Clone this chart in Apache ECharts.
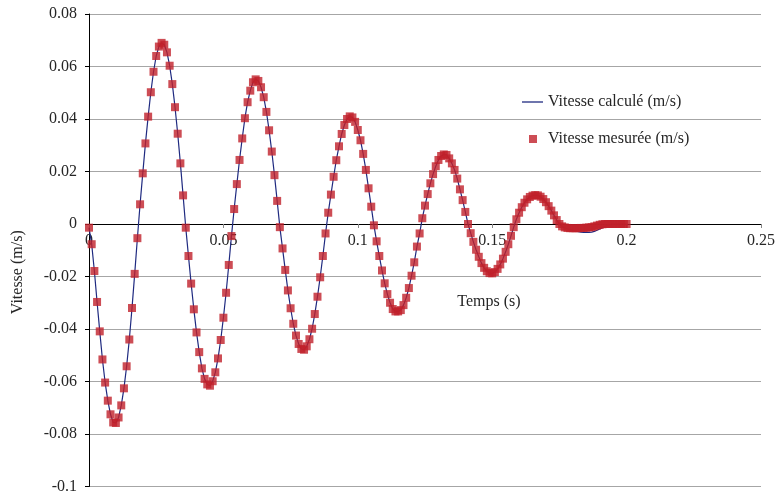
<!DOCTYPE html>
<html><head><meta charset="utf-8">
<script src="https://cdn.jsdelivr.net/npm/echarts@6/dist/echarts.min.js"></script>
<style>html,body{margin:0;padding:0;background:#fff}#c{width:776px;height:497px}</style>
</head><body><div id="c"></div><script>
const seriesNames = ['Vitesse calculé (m/s)', 'Vitesse mesurée (m/s)'];
const axisNames = { x: 'Temps (s)', y: 'Vitesse (m/s)' };
const timeStep = 0.001;
const measured = [
 -0.0014,-0.0077,-0.0179,-0.0297,-0.0409,-0.0516,-0.0604,-0.0673,-0.0725,-0.0756,
 -0.0758,-0.0737,-0.0691,-0.0626,-0.0542,-0.0440,-0.0320,-0.0190,-0.0054,0.0075,
 0.0193,0.0307,0.0409,0.0502,0.0580,0.0640,0.0676,0.0690,0.0683,0.0654,
 0.0603,0.0533,0.0445,0.0344,0.0231,0.0109,-0.0014,-0.0122,-0.0227,-0.0325,
 -0.0413,-0.0488,-0.0550,-0.0590,-0.0611,-0.0616,-0.0599,-0.0565,-0.0512,-0.0442,
 -0.0357,-0.0262,-0.0156,-0.0046,0.0057,0.0152,0.0244,0.0326,0.0403,0.0464,
 0.0508,0.0540,0.0551,0.0545,0.0521,0.0483,0.0427,0.0357,0.0276,0.0186,
 0.0088,-0.0012,-0.0093,-0.0175,-0.0253,-0.0321,-0.0380,-0.0425,-0.0457,-0.0476,
 -0.0479,-0.0466,-0.0439,-0.0399,-0.0343,-0.0277,-0.0203,-0.0122,-0.0036,0.0043,
 0.0112,0.0180,0.0243,0.0296,0.0343,0.0377,0.0400,0.0410,0.0406,0.0389,
 0.0358,0.0319,0.0267,0.0206,0.0136,0.0066,-0.0005,-0.0066,-0.0122,-0.0177,
 -0.0226,-0.0267,-0.0300,-0.0324,-0.0333,-0.0333,-0.0328,-0.0309,-0.0281,-0.0244,
 -0.0197,-0.0146,-0.0086,-0.0036,0.0022,0.0070,0.0114,0.0155,0.0190,0.0220,
 0.0244,0.0259,0.0265,0.0263,0.0250,0.0231,0.0206,0.0173,0.0132,0.0091,
 0.0046,0.0000,-0.0035,-0.0068,-0.0098,-0.0125,-0.0149,-0.0167,-0.0180,-0.0187,
 -0.0188,-0.0183,-0.0171,-0.0154,-0.0132,-0.0106,-0.0077,-0.0045,-0.0012,0.0018,
 0.0043,0.0064,0.0081,0.0094,0.0103,0.0108,0.0110,0.0109,0.0104,0.0095,
 0.0083,0.0068,0.0051,0.0033,0.0015,0.0000,-0.0009,-0.0013,-0.0015,-0.0016,
 -0.0016,-0.0016,-0.0016,-0.0015,-0.0015,-0.0014,-0.0013,-0.0012,-0.0009,-0.0006,
 -0.0003,-0.0001,0.0000,0.0000,0.0000,0.0000,0.0000,0.0000,0.0000,0.0000,
 0.0000
];
const calculated = [
 -0.0014,-0.0077,-0.0179,-0.0297,-0.0409,-0.0516,-0.0604,-0.0673,-0.0725,-0.0756,
 -0.0758,-0.0737,-0.0691,-0.0626,-0.0542,-0.0440,-0.0320,-0.0190,-0.0054,0.0075,
 0.0193,0.0307,0.0409,0.0502,0.0580,0.0640,0.0676,0.0690,0.0683,0.0654,
 0.0603,0.0533,0.0445,0.0344,0.0231,0.0109,-0.0014,-0.0122,-0.0227,-0.0325,
 -0.0413,-0.0488,-0.0550,-0.0590,-0.0611,-0.0616,-0.0599,-0.0565,-0.0512,-0.0442,
 -0.0357,-0.0262,-0.0156,-0.0046,0.0057,0.0152,0.0244,0.0326,0.0403,0.0464,
 0.0508,0.0540,0.0551,0.0545,0.0521,0.0483,0.0427,0.0357,0.0276,0.0186,
 0.0088,-0.0012,-0.0093,-0.0175,-0.0253,-0.0321,-0.0380,-0.0425,-0.0457,-0.0476,
 -0.0479,-0.0466,-0.0439,-0.0399,-0.0343,-0.0277,-0.0203,-0.0122,-0.0036,0.0043,
 0.0112,0.0180,0.0243,0.0296,0.0343,0.0377,0.0400,0.0410,0.0406,0.0389,
 0.0358,0.0319,0.0267,0.0206,0.0136,0.0066,-0.0005,-0.0066,-0.0122,-0.0177,
 -0.0226,-0.0267,-0.0300,-0.0324,-0.0333,-0.0333,-0.0328,-0.0309,-0.0281,-0.0244,
 -0.0197,-0.0146,-0.0086,-0.0036,0.0022,0.0070,0.0114,0.0155,0.0190,0.0220,
 0.0244,0.0259,0.0265,0.0263,0.0250,0.0231,0.0206,0.0173,0.0132,0.0091,
 0.0046,0.0000,-0.0035,-0.0068,-0.0098,-0.0125,-0.0149,-0.0167,-0.0180,-0.0187,
 -0.0188,-0.0183,-0.0171,-0.0154,-0.0132,-0.0106,-0.0077,-0.0045,-0.0012,0.0018,
 0.0043,0.0064,0.0081,0.0094,0.0103,0.0108,0.0110,0.0109,0.0104,0.0095,
 0.0083,0.0068,0.0051,0.0033,0.0015,0.0000,-0.0009,-0.0014,-0.0018,-0.0021,
 -0.0024,-0.0027,-0.0029,-0.0031,-0.0032,-0.0032,-0.0032,-0.0031,-0.0028,-0.0024,
 -0.0019,-0.0014,-0.0009,-0.0005,-0.0002,0.0000,0.0000,0.0000,0.0000,0.0000,
 0.0000
];
const xTicks = { min: 0, max: 0.25, step: 0.05 };
const yTicks = { min: -0.1, max: 0.08, step: 0.02 };

const times = measured.map((_, i) => +(i * timeStep).toFixed(3));
const fmt = v => String(+v.toFixed(2));
const FONT = 'Liberation Serif';
const TXT = '#262626';

const W = 776, H = 497;
const G = { left: 89, right: 15, top: 14, bottom: 10.5 };
const gridH = H - G.top - G.bottom;
// move the whole x axis (line, ticks, labels, name) up to the y = 0 level
const xOffset = -gridH * (0 - yTicks.min) / (yTicks.max - yTicks.min);

const chart = echarts.init(document.getElementById('c'));
chart.setOption({
  animation: false,
  backgroundColor: '#fff',
  textStyle: { fontFamily: FONT },
  grid: Object.assign({ outerBoundsMode: 'none', containLabel: false }, G),
  legend: [
    { data: [{ name: seriesNames[0], icon: 'rect' }], left: 517, top: 89, orient: 'vertical', itemWidth: 21, itemHeight: 1.3,
      textStyle: { fontFamily: FONT, fontSize: 16, color: TXT } },
    { data: [{ name: seriesNames[1], icon: 'rect' }], left: 524, top: 126, orient: 'vertical', itemWidth: 8, itemHeight: 8,
      textStyle: { fontFamily: FONT, fontSize: 16, color: TXT, padding: [0, 0, 0, 6] } }
  ],
  xAxis: {
    type: 'value', min: xTicks.min, max: xTicks.max, interval: xTicks.step,
    offset: xOffset,
    name: axisNames.x, nameLocation: 'middle', nameGap: 70,
    nameTextStyle: { fontFamily: FONT, fontSize: 16, color: TXT, padding: [0, 0, 0, 128] },
    axisLine: { onZero: false, lineStyle: { color: '#000', width: 1 } },
    axisTick: { show: true, length: 4, lineStyle: { color: '#888' } },
    axisLabel: { fontFamily: FONT, fontSize: 16, color: TXT, margin: 9, formatter: fmt },
    splitLine: { show: false }
  },
  yAxis: {
    type: 'value', min: yTicks.min, max: yTicks.max, interval: yTicks.step,
    name: axisNames.y, nameLocation: 'middle', nameGap: 63,
    nameTextStyle: { fontFamily: FONT, fontSize: 16, color: TXT, padding: [0, 44, 0, 0] },
    axisLine: { show: true, onZero: false, lineStyle: { color: '#000', width: 1 } },
    axisTick: { show: true, length: 4, lineStyle: { color: '#000' } },
    axisLabel: { fontFamily: FONT, fontSize: 16, color: TXT, margin: 12, formatter: fmt },
    splitLine: { show: true, lineStyle: { color: '#a6a6a6', width: 1 } }
  },
  series: [
    { name: seriesNames[0], type: 'line', symbol: 'none', z: 2,
      lineStyle: { color: '#1f2a80', width: 1.2 }, itemStyle: { color: '#1f2a80' },
      data: times.map((t, i) => [t, calculated[i]]) },
    { name: seriesNames[1], type: 'scatter', symbol: 'rect', symbolSize: 8, z: 3,
      itemStyle: { color: '#c0202a' },
      data: times.map((t, i) => [t, measured[i]]) }
  ]
});
</script></body></html>
